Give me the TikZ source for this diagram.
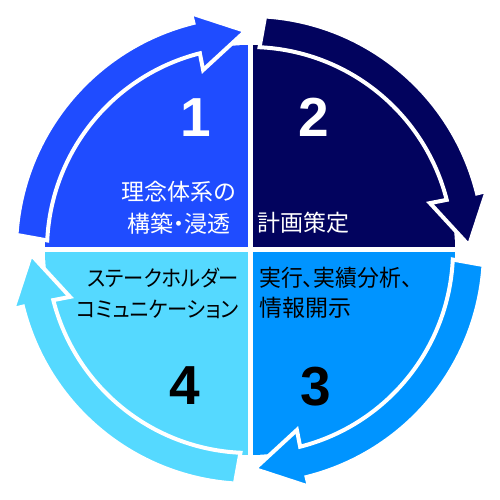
\documentclass[tikz,border=0pt]{standalone}
\usepackage{fontspec}
\setmainfont{Liberation Sans}
\newfontfamily\jp{Noto Sans CJK JP}[RawFeature={+palt}]
\definecolor{cA}{RGB}{31,76,255}
\definecolor{cB}{RGB}{2,3,94}
\definecolor{cC}{RGB}{0,148,255}
\definecolor{cD}{RGB}{85,217,255}
\newcommand{\quadarrow}[2]{%
  \begin{scope}[shift={(250,250)},rotate=#1]
    \path[fill=#2, draw=white, line width=4pt, line join=miter]
      (176.3:234) arc[start angle=176.3, end angle=104, radius=234]
      -- (104:244) -- (91.2:219) -- (104.6:186) -- (104.3:203)
      arc[start angle=104.3, end angle=177.3, radius=203] -- cycle;
  \end{scope}}
\tikzset{
  digit/.style={inner sep=0pt, font=\fontsize{55}{55}\selectfont\bfseries},
  jtext/.style={inner sep=0pt, font=\jp\fontsize{23}{28}\selectfont},
  jkana/.style={inner sep=0pt, font=\jp\fontsize{22}{28}\selectfont, xscale=0.92, transform shape},
}
\begin{document}
\begin{tikzpicture}[x=1pt,y=1pt]
\useasboundingbox (0,0) rectangle (500,500);
% quadrant sectors
\begin{scope}[shift={(250,250)}]
  \fill[cA] (0,0) -- (90:205) arc[start angle=90, end angle=180, radius=205] -- cycle;
  \fill[cB] (0,0) -- (0:205) arc[start angle=0, end angle=90, radius=205] -- cycle;
  \fill[cC] (0,0) -- (-90:205) arc[start angle=-90, end angle=0, radius=205] -- cycle;
  \fill[cD] (0,0) -- (180:205) arc[start angle=180, end angle=270, radius=205] -- cycle;
  \draw[white, line width=5pt] (0,-210) -- (0,210);
  \draw[white, line width=5pt] (-210,0) -- (210,0);
\end{scope}
% arrows
\quadarrow{0}{cA}
\quadarrow{-90}{cB}
\quadarrow{-180}{cC}
\quadarrow{-270}{cD}
% digits
\node[digit, text=white] (n1) at (196,382) {1};
\node[digit, text=white] (n2) at (314,383) {2};
\node[digit, text=black] (n3) at (316,113) {3};
\node[digit, text=black] (n4) at (185,114) {4};
% texts
\node[jtext, text=white] (t1a) at (179,308) {理念体系の};
\node[jtext, text=white] (t1b) at (179,276) {構築・浸透};
\node[jtext, text=white, anchor=west] (t2) at (257,277) {計画策定};
\node[jtext, text=black, anchor=west, xscale=0.95, transform shape] (t3a) at (259,222) {実行、実績分析、};
\node[jtext, text=black, anchor=west] (t3b) at (259,192) {情報開示};
\node[jkana, text=black, anchor=east] (t4a) at (239,222) {ステークホルダー};
\node[jkana, text=black, anchor=east] (t4b) at (239,191) {コミュニケーション};
\end{tikzpicture}
\end{document}
